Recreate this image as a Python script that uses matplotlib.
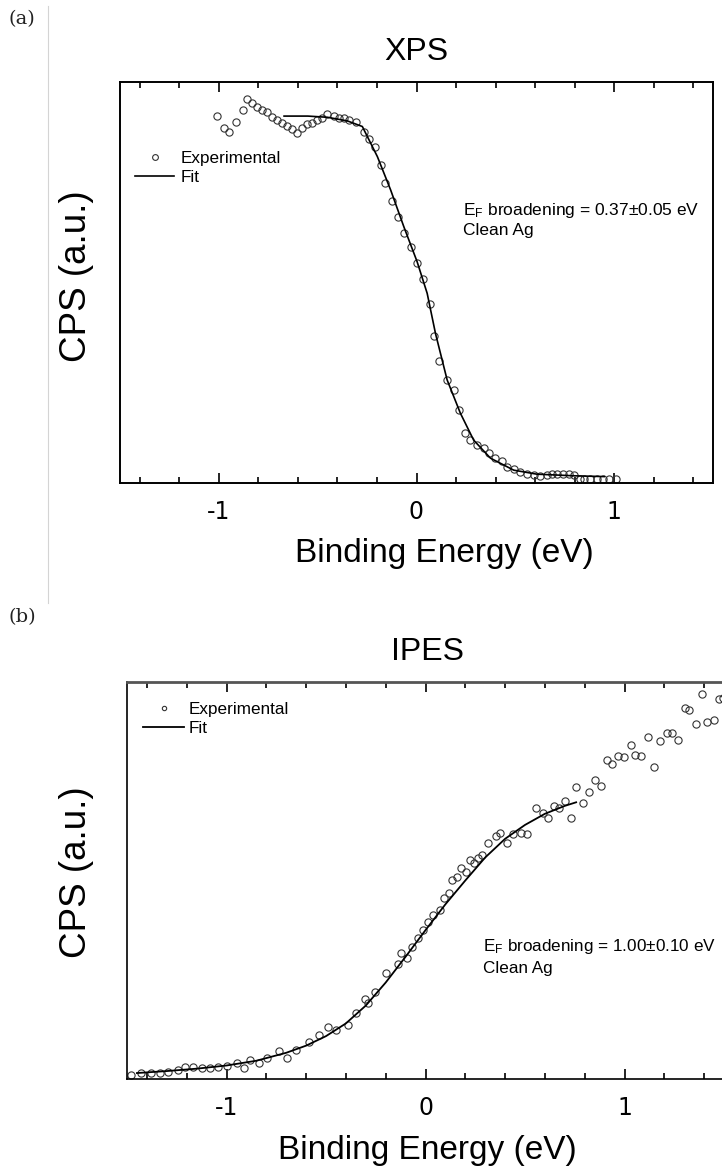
import matplotlib
matplotlib.use("Agg")
import matplotlib.pyplot as plt
from matplotlib.ticker import MultipleLocator

plt.rcParams["axes.unicode_minus"] = False
plt.rcParams["mathtext.fontset"] = "custom"
plt.rcParams["mathtext.rm"] = "Liberation Sans"
plt.rcParams["mathtext.it"] = "Liberation Sans"

# ---- XPS (a): Fermi edge of clean Ag ----
xps_energy = [-1.007, -0.973, -0.948, -0.914, -0.880, -0.855, -0.830, -0.805, -0.783,
              -0.758, -0.732, -0.707, -0.682, -0.657, -0.631, -0.606, -0.577, -0.552,
              -0.527, -0.502, -0.476, -0.451, -0.418, -0.392, -0.367, -0.342, -0.308,
              -0.266, -0.241, -0.212, -0.182, -0.157, -0.123, -0.094, -0.064, -0.027,
              0.003, 0.034, 0.067, 0.091, 0.113, 0.155, 0.189, 0.214, 0.247, 0.273,
              0.306, 0.340, 0.365, 0.399, 0.433, 0.458, 0.492, 0.525, 0.559, 0.592,
              0.626, 0.660, 0.685, 0.711, 0.741, 0.769, 0.795, 0.825, 0.848, 0.879,
              0.912, 0.943, 0.976, 1.010]
xps_counts = [0.916, 0.885, 0.876, 0.901, 0.930, 0.957, 0.947, 0.938, 0.930,
              0.926, 0.913, 0.905, 0.897, 0.890, 0.882, 0.872, 0.885, 0.895,
              0.899, 0.904, 0.909, 0.920, 0.915, 0.909, 0.909, 0.905, 0.901,
              0.876, 0.857, 0.837, 0.793, 0.747, 0.702, 0.663, 0.623, 0.589,
              0.549, 0.508, 0.446, 0.367, 0.303, 0.257, 0.232, 0.182, 0.124, 0.107,
              0.095, 0.087, 0.076, 0.062, 0.056, 0.041, 0.034, 0.028, 0.022, 0.020,
              0.017, 0.019, 0.022, 0.022, 0.022, 0.022, 0.020, 0.009, 0.009, 0.010,
              0.010, 0.010, 0.010, 0.010]
xps_fit_energy = [-0.67, -0.55, -0.45, -0.35, -0.274, -0.198, -0.131, -0.064, 0.003,
                  0.054, 0.096, 0.155, 0.222, 0.289, 0.374, 0.492, 0.609, 0.795, 0.95]
xps_fit_counts = [0.915, 0.915, 0.912, 0.903, 0.889, 0.814, 0.731, 0.639, 0.552,
                  0.473, 0.373, 0.257, 0.174, 0.107, 0.062, 0.032, 0.022, 0.018, 0.016]

# ---- IPES (b): Fermi edge of clean Ag ----
ipes_energy = [-1.480, -1.429, -1.378, -1.336, -1.294, -1.243, -1.209, -1.167, -1.125,
               -1.083, -1.041, -0.998, -0.948, -0.914, -0.880, -0.838, -0.796, -0.737,
               -0.695, -0.652, -0.585, -0.534, -0.492, -0.450, -0.391, -0.348, -0.306,
               -0.290, -0.256, -0.196, -0.138, -0.124, -0.094, -0.068, -0.038, -0.013,
               0.013, 0.038, 0.073, 0.094, 0.119, 0.134, 0.160, 0.180, 0.205, 0.225,
               0.246, 0.266, 0.285, 0.313, 0.352, 0.374, 0.408, 0.441, 0.478, 0.512,
               0.554, 0.588, 0.614, 0.644, 0.672, 0.701, 0.732, 0.757, 0.791, 0.824,
               0.850, 0.880, 0.914, 0.938, 0.968, 0.998, 1.032, 1.052, 1.083, 1.116,
               1.150, 1.179, 1.213, 1.238, 1.268, 1.302, 1.326, 1.359, 1.390, 1.415,
               1.449, 1.474, 1.495]
ipes_counts = [0.010, 0.014, 0.014, 0.016, 0.018, 0.023, 0.031, 0.029, 0.027,
               0.027, 0.029, 0.033, 0.041, 0.027, 0.048, 0.040, 0.052, 0.071,
               0.052, 0.073, 0.094, 0.111, 0.132, 0.123, 0.136, 0.165, 0.201,
               0.191, 0.220, 0.266, 0.290, 0.317, 0.305, 0.332, 0.355, 0.375,
               0.395, 0.413, 0.426, 0.456, 0.468, 0.501, 0.509, 0.531, 0.521, 0.552,
               0.544, 0.557, 0.564, 0.595, 0.612, 0.619, 0.595, 0.617, 0.620, 0.617,
               0.682, 0.669, 0.657, 0.688, 0.682, 0.699, 0.657, 0.736, 0.696, 0.724,
               0.753, 0.738, 0.804, 0.793, 0.814, 0.810, 0.841, 0.816, 0.814, 0.861,
               0.787, 0.852, 0.872, 0.871, 0.854, 0.934, 0.929, 0.894, 0.970, 0.900,
               0.904, 0.956, 0.959]
ipes_fit_energy = [-1.45, -1.3, -1.15, -1.0, -0.85, -0.7, -0.6, -0.5, -0.4, -0.3,
                   -0.2, -0.1, 0.0, 0.1, 0.2, 0.3, 0.4, 0.5, 0.6, 0.7, 0.757]
ipes_fit_counts = [0.015, 0.020, 0.026, 0.034, 0.046, 0.066, 0.084, 0.108, 0.140, 0.185,
                   0.243, 0.308, 0.375, 0.440, 0.500, 0.558, 0.605, 0.640, 0.668, 0.688,
                   0.697]

xtick_values = [-1, 0, 1]
xtick_labels = ["-1", "0", "1"]

W, H = 722, 1173
fig = plt.figure(figsize=(W / 100, H / 100), dpi=100)


def px_rect(left, top, right, bottom):
    return [left / W, 1 - bottom / H, (right - left) / W, (bottom - top) / H]


def style_axes(ax, spine_w):
    ax.set_xlim(-1.5, 1.5)
    ax.set_ylim(0, 1)
    ax.xaxis.set_major_locator(MultipleLocator(1))
    ax.xaxis.set_minor_locator(MultipleLocator(0.2))
    ax.set_xticks(xtick_values)
    ax.set_xticklabels(xtick_labels, fontsize=17, family="DejaVu Sans")
    ax.set_yticks([])
    ax.tick_params(axis="x", which="both", direction="in", top=True, bottom=True,
                   color="black", pad=12, width=1.2)
    ax.tick_params(axis="x", which="major", length=7)
    ax.tick_params(axis="x", which="minor", length=4)
    for s in ax.spines.values():
        s.set_linewidth(spine_w)


label_font = dict(family="Liberation Sans", color="black")

# ---------- panel (a) ----------
ax1 = fig.add_axes(px_rect(120, 82, 713, 483))
style_axes(ax1, 1.4)
ax1.plot(xps_energy, xps_counts, linestyle="none", marker="o", ms=5.2,
         mfc="none", mec="#333333", mew=0.8, label="Experimental", clip_on=False)
ax1.plot(xps_fit_energy, xps_fit_counts, color="black", lw=1.2, label="Fit")
ax1.legend(loc="upper left", bbox_to_anchor=(135 / W, 1 - 151 / H),
           bbox_transform=fig.transFigure, frameon=False, borderpad=0,
           borderaxespad=0, handlelength=2.3, handletextpad=0.35,
           labelspacing=0.25, markerscale=0.8,
           prop={"family": "Liberation Sans", "size": 12.3})
fig.text(463 / W, 1 - 210 / H, r"E$_\mathrm{F}$ broadening = 0.37±0.05 eV",
         fontsize=12.5, va="center", ha="left", **label_font)
fig.text(463 / W, 1 - 231 / H, "Clean Ag", fontsize=12.5, va="center", ha="left",
         **label_font)
fig.text(416 / W, 1 - 52 / H, "XPS", fontsize=23, ha="center", va="center", **label_font)
fig.text(76 / W, 1 - 276 / H, "CPS (a.u.)", fontsize=26.5, rotation=90, ha="center",
         va="center", **label_font)
fig.text(444 / W, 1 - 553 / H, "Binding Energy (eV)", fontsize=24, ha="center",
         va="center", **label_font)

# ---------- panel (b) ----------
ax2 = fig.add_axes(px_rect(127, 682, 724, 1079))
style_axes(ax2, 1.2)
ax2.spines["top"].set_color("#555555")
ax2.spines["top"].set_linewidth(2.0)
ax2.spines["right"].set_visible(False)
ax2.plot(ipes_energy, ipes_counts, linestyle="none", marker="o", ms=5.2,
         mfc="none", mec="#333333", mew=0.8, label="Experimental", clip_on=False)
ax2.plot(ipes_fit_energy, ipes_fit_counts, color="black", lw=1.3, label="Fit")
ax2.legend(loc="upper left", bbox_to_anchor=(143 / W, 1 - 702 / H),
           bbox_transform=fig.transFigure, frameon=False, borderpad=0,
           borderaxespad=0, handlelength=2.4, handletextpad=0.3,
           labelspacing=0.25, markerscale=0.6,
           prop={"family": "Liberation Sans", "size": 12.3})
fig.text(483 / W, 1 - 946 / H, r"E$_\mathrm{F}$ broadening = 1.00±0.10 eV",
         fontsize=12.3, va="center", ha="left", **label_font)
fig.text(483 / W, 1 - 969 / H, "Clean Ag", fontsize=12.3, va="center", ha="left",
         **label_font)
fig.text(428 / W, 1 - 652 / H, "IPES", fontsize=23, ha="center", va="center", **label_font)
fig.text(76 / W, 1 - 872 / H, "CPS (a.u.)", fontsize=26.5, rotation=90, ha="center",
         va="center", **label_font)
fig.text(427 / W, 1 - 1150 / H, "Binding Energy (eV)", fontsize=24, ha="center",
         va="center", **label_font)

# panel letters and separator rule
fig.text(22 / W, 1 - 19 / H, "(a)", fontsize=14, family="DejaVu Serif",
         ha="center", va="center", color="#222222")
fig.text(22 / W, 1 - 617 / H, "(b)", fontsize=14, family="DejaVu Serif",
         ha="center", va="center", color="#222222")
fig.add_artist(plt.Line2D([47.5 / W, 47.5 / W], [1 - 6 / H, 1 - 603 / H],
                          color="#d4d4d4", lw=0.8, transform=fig.transFigure))

fig.savefig("out.png", dpi=100)
